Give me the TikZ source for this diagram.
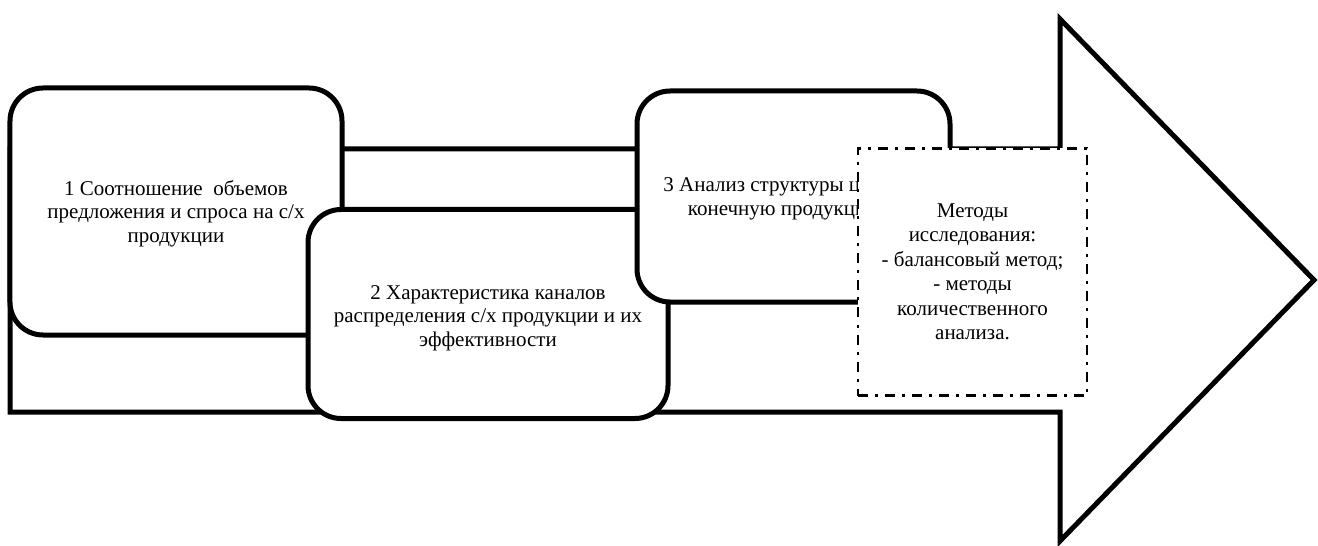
\documentclass[tikz,border=0pt]{standalone}
\usepackage{fontspec}
\setmainfont{Liberation Serif}
\begin{document}
\begin{tikzpicture}[x=1bp,y=-1bp,
  arrowline/.style={draw=black,line width=5bp,line join=miter,fill=white},
  stage/.style={draw=black,line width=5bp,fill=white,rounded corners=33bp,
    inner sep=0pt},
  stagetext/.style={align=center,inner sep=0pt,
    font=\fontsize{21bp}{23.5bp}\selectfont},
  methods/.style={draw=black,line width=2.6bp,fill=white,
    dash pattern=on 10bp off 7bp on 3bp off 7bp,
    align=center,inner sep=0pt,font=\fontsize{21bp}{24.5bp}\selectfont}]
\useasboundingbox (0,0) rectangle (1318,546);

% big outline arrow in the background
\draw[arrowline] (10,149) -- (1060,149) -- (1060,19) -- (1314,280)
  -- (1060,541) -- (1060,412) -- (10,412) -- cycle;

% three stages, each overlapping the previous one
\node[stage,minimum width=332bp,minimum height=247bp] (box1) at (176,211.5) {};
\node[stagetext] (box1text) at (176,213.5)
  {1 Соотношение \ объемов\\предложения и спроса на с/х\\продукции};
\node[stage,minimum width=360bp,minimum height=209bp] (box2) at (488,314) {};
\node[stagetext] (box2text) at (488,318)
  {2 Характеристика каналов\\распределения с/х продукции и их\\эффективности};
\node[stage,minimum width=313bp,minimum height=211bp] (box3) at (793.5,196.5) {};
\node[stagetext] (box3text) at (785,199)
  {3 Анализ структуры цен на\\конечную продукцию};

% research methods box on top
\node[methods,minimum width=229bp,minimum height=247bp] (methods) at (972.5,272)
  {Методы\\исследования:\\- балансовый метод;\\- методы\\количественного\\анализа.};
\end{tikzpicture}
\end{document}
